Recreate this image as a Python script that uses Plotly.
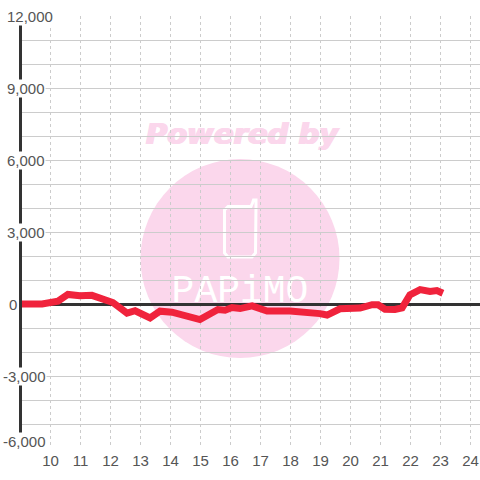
import plotly.graph_objects as go

hours = [9, 9.72, 10.25, 10.58, 10.98, 11.38, 12.08, 12.55, 12.82, 13.32, 13.65, 14.05, 14.98, 15.38,
         15.58, 15.82, 16.05, 16.32, 16.72, 17.22, 17.98, 18.98, 19.22, 19.65, 19.98, 20.32, 20.72,
         20.92, 21.15, 21.48, 21.72, 21.98, 22.32, 22.65, 22.88, 23.08]
values = [0, 0, 120, 400, 340, 360, 60, -380, -280, -580, -300, -340, -650, -340,
          -230, -260, -150, -190, -80, -290, -290, -400, -460, -200, -150, -170, -30,
          -30, -220, -230, -160, 380, 600, 520, 560, 450]
x_ticks = list(range(10, 25))
y_labels = ["12,000", "9,000", "6,000", "3,000", "0", "-3,000", "-6,000"]
y_label_px = [(6, 16), (6, 88.5), (6, 160.5), (6, 232.5), (8, 304), (2, 376.5), (2, 441)]

W, H = 480, 480
ML, MR, MT, MB = 20, 0, 16, 32
PW, PH = W - ML - MR, H - MT - MB
def px(x):
    return (x - ML) / PW
def py(y):
    return 1 - (y - MT) / PH

PINK = "#fbd7ec"
phone = [("M", 228, 206.5), ("L", 251, 206.5), ("L", 252.5, 203), ("L", 253.5, 200), ("L", 256, 200),
         ("L", 256, 204), ("L", 255.5, 253), ("L", 252, 257), ("L", 228, 257), ("L", 224.5, 253),
         ("L", 224.5, 210), ("Z",)]
phone_path = " ".join(p[0] if len(p) == 1 else f"{p[0]} {px(p[1]):.5f} {py(p[2]):.5f}" for p in phone)
shapes = [
    dict(type="circle", xref="paper", yref="paper", layer="below",
         x0=px(140.5), x1=px(339.5), y0=py(159), y1=py(358), fillcolor=PINK, line_width=0),
    dict(type="path", xref="paper", yref="paper", layer="below",
         line=dict(color="white", width=3), path=phone_path),
    dict(type="rect", xref="paper", yref="paper", layer="below",
         x0=px(142), x1=px(342), y0=py(147), y1=py(117), line_width=0, fillcolor="rgba(0,0,0,0)",
         label=dict(text="<b><i>Powered by</i></b>", textposition="middle center",
                    font=dict(family="DejaVu Sans", size=29, color=PINK,
                              shadow="1px 0 0 #fbd7ec, -1px 0 0 #fbd7ec"))),
    dict(type="rect", xref="paper", yref="paper", layer="below",
         x0=px(140), x1=px(340), y0=py(303), y1=py(268), line_width=0, fillcolor="rgba(0,0,0,0)",
         label=dict(text="PAPiMO", textposition="middle center",
                    font=dict(family="Liberation Mono", size=38, color="white"))),
]

annotations = [
    dict(text=t, xref="paper", yref="paper", x=px(a), y=py(b), xanchor="left", yanchor="middle",
         showarrow=False, bgcolor="white", borderpad=0,
         font=dict(family="Liberation Sans", size=15, color="#555"))
    for t, (a, b) in zip(y_labels, y_label_px)
]

fig = go.Figure(go.Scatter(x=hours, y=values, mode="lines",
                           line=dict(color="#f0233c", width=7), hoverinfo="skip"))
fig.update_layout(
    width=W, height=H, margin=dict(l=ML, r=MR, t=MT, b=MB, pad=0), showlegend=False,
    paper_bgcolor="white", plot_bgcolor="white", shapes=shapes, annotations=annotations,
    xaxis=dict(range=[9 - 0.5 / 30, 9 - 0.5 / 30 + PW / 30], tickvals=x_ticks, ticks="", showline=False,
               showgrid=True, gridcolor="#cccccc", gridwidth=1, griddash="3px,3px", zeroline=False,
               ticklabelstandoff=2,
               tickfont=dict(family="Liberation Sans", size=15, color="#555")),
    yaxis=dict(range=[-6000, 12000], dtick=1000, showticklabels=False, ticks="",
               showgrid=True, gridcolor="#cccccc", gridwidth=1,
               zeroline=True, zerolinecolor="#333333", zerolinewidth=3),
)
fig.add_shape(type="line", xref="paper", yref="paper", x0=px(20.5), x1=px(20.5), y0=0, y1=1,
              line=dict(color="#333333", width=3), layer="above")
fig.write_html("out.html", config=dict(displayModeBar=False),
               post_script="document.body.style.margin='0';document.body.style.overflow='hidden';")
